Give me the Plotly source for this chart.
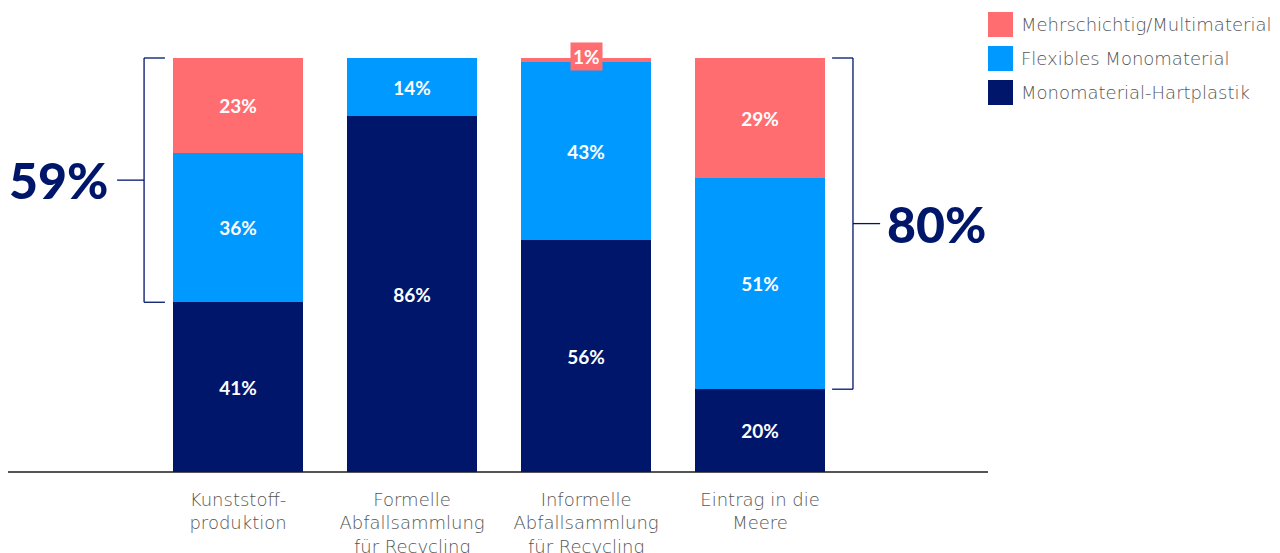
import plotly.graph_objects as go

# --- data -------------------------------------------------------------
categories = [
    "Kunststoff-<br>produktion",
    "Formelle<br>Abfallsammlung<br>für Recycling",
    "Informelle<br>Abfallsammlung<br>für Recycling",
    "Eintrag in die<br>Meere",
]
series_names = [
    "Monomaterial-Hartplastik",
    "Flexibles Monomaterial",
    "Mehrschichtig/Multimaterial",
]
hartplastik = [41, 86, 56, 20]
flexibel = [36, 14, 43, 51]
mehrschichtig = [23, 0, 1, 29]

colors = {
    "Monomaterial-Hartplastik": "#00166B",
    "Flexibles Monomaterial": "#0099FF",
    "Mehrschichtig/Multimaterial": "#FF6D71",
}
NAVY = "#00166B"
GREY = "#555555"
BOLD_FONT = "Lato"
LIGHT_FONT = "DejaVu Sans"

values = {
    "Monomaterial-Hartplastik": hartplastik,
    "Flexibles Monomaterial": flexibel,
    "Mehrschichtig/Multimaterial": mehrschichtig,
}
x_pos = list(range(len(categories)))

# plot-area geometry (pixels) used for the legend placed in the right margin
W, H = 1280, 553
M_L, M_R, M_T, M_B = 8, 292, 20, 81
PW, PH = W - M_L - M_R, H - M_T - M_B


def px_x(p):
    return (p - M_L) / PW


def px_y(p):
    return (H - M_B - p) / PH


fig = go.Figure()
SMALL = 3  # segments below this share are labelled in a box above the bar
for name in series_names:
    vals = values[name]
    fig.add_trace(go.Bar(
        x=x_pos, y=vals, name=name,
        marker=dict(color=colors[name], line=dict(width=0)),
        width=0.747,
        text=[f"{v}%" if v >= SMALL else "" for v in vals],
        textposition="inside", insidetextanchor="middle",
        textfont=dict(color="white", size=19, family=BOLD_FONT, weight=700),
        textangle=0,
        hoverinfo="skip", showlegend=False,
    ))

annotations = []
shapes = []

# small top segment label in a coloured box
for i, v in enumerate(mehrschichtig):
    if 0 < v < SMALL:
        top = hartplastik[i] + flexibel[i] + v
        annotations.append(dict(
            x=i, y=top + 0.3, xref="x", yref="y", text=f"{v}%",
            showarrow=False, bgcolor=colors["Mehrschichtig/Multimaterial"],
            font=dict(color="white", size=19, family=BOLD_FONT, weight=700),
            borderpad=2, xanchor="center", yanchor="middle",
        ))


# brackets summing the flexible + multilayer shares of one bar
def bracket(i, side):
    lo = hartplastik[i]
    hi = hartplastik[i] + flexibel[i] + mehrschichtig[i]
    mid = (lo + hi) / 2
    total = flexibel[i] + mehrschichtig[i]
    line = dict(color=NAVY, width=1.3)
    if side == "left":
        xv, xt, xm, xtext, anchor = i - 0.540, i - 0.420, i - 0.695, i - 0.735, "right"
    else:
        xv, xt, xm, xtext, anchor = i + 0.534, i + 0.414, i + 0.690, i + 0.72, "left"
    shapes.extend([
        dict(type="line", xref="x", yref="y", x0=xv, x1=xv, y0=lo, y1=hi, line=line),
        dict(type="line", xref="x", yref="y", x0=xv, x1=xt, y0=lo, y1=lo, line=line),
        dict(type="line", xref="x", yref="y", x0=xv, x1=xt, y0=hi, y1=hi, line=line),
        dict(type="line", xref="x", yref="y", x0=xv, x1=xm, y0=mid, y1=mid, line=line),
    ])
    annotations.append(dict(
        x=xtext, y=mid, xref="x", yref="y", text=f"{total}%", showarrow=False,
        xanchor=anchor, yanchor="middle",
        font=dict(color=NAVY, size=50, family=BOLD_FONT, weight=900),
    ))


bracket(0, "left")
bracket(3, "right")

# legend: square swatches with labels, top series first
legend_rows = [24.5, 58.5, 92.5]
for row_y, name in zip(legend_rows, reversed(series_names)):
    shapes.append(dict(
        type="rect", xref="paper", yref="paper",
        x0=px_x(988), x1=px_x(1013), y0=px_y(row_y + 12.5), y1=px_y(row_y - 12.5),
        fillcolor=colors[name], line=dict(width=0),
    ))
    annotations.append(dict(
        x=px_x(1019), y=px_y(row_y), xref="paper", yref="paper", text=name,
        showarrow=False, xanchor="left", yanchor="middle",
        font=dict(size=18, family=LIGHT_FONT, color=GREY, weight=200),
    ))

fig.update_layout(
    width=W, height=H,
    margin=dict(l=M_L, r=M_R, t=M_T, b=M_B, autoexpand=False),
    paper_bgcolor="white", plot_bgcolor="white",
    barmode="stack", bargap=0,
    showlegend=False,
    xaxis=dict(
        range=[-1.322, 4.310], tickvals=x_pos, ticktext=categories,
        showgrid=False, zeroline=False, showline=False, ticks="",
        tickfont=dict(size=18, family=LIGHT_FONT, color=GREY, weight=200),
        ticklabelstandoff=15, fixedrange=True,
    ),
    yaxis=dict(
        range=[0, 109.18], showticklabels=False, showgrid=False,
        zeroline=True, zerolinecolor=GREY, zerolinewidth=2,
        showline=False, ticks="", fixedrange=True,
    ),
    annotations=annotations,
    shapes=shapes,
)

fig.write_html("out.html", config={"displayModeBar": False})
